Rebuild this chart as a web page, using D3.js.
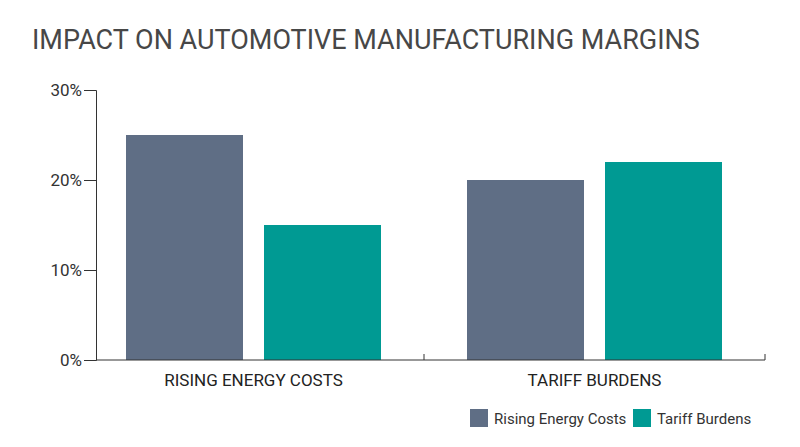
<!DOCTYPE html><html><head><script src="https://cdn.jsdelivr.net/npm/d3@7"></script>
<style>body{margin:0;background:#fff}text{font-family:Roboto,"Liberation Sans",sans-serif}</style></head><body>
<svg id="c" width="800" height="447"></svg>
<script>
const categories=["RISING ENERGY COSTS","TARIFF BURDENS"];
const seriesNames=["Rising Energy Costs","Tariff Burdens"];
const risingEnergy=[25,20];
const tariffBurdens=[15,22];
const yTicks=[0,10,20,30];
const colors=["#5f6e85","#009a93"];
const svg=d3.select("#c");
svg.append("text").attr("x",32).attr("y",49).attr("font-size",27).attr("fill","#474747").text("IMPACT ON AUTOMOTIVE MANUFACTURING MARGINS");
const x=d3.scaleBand().domain(categories).range([83,765]).paddingInner(0).paddingOuter(0);
const y=d3.scaleLinear().domain([0,30]).range([360,90]);
const sub=d3.scaleBand().domain(seriesNames).range([0,x.bandwidth()]).paddingInner(0.153).paddingOuter(0.5);
const data=categories.map((c,i)=>({c,v:[risingEnergy[i],tariffBurdens[i]]}));
const g=svg.append("g");
data.forEach(d=>d.v.forEach((v,j)=>g.append("rect").attr("x",x(d.c)+43+j*138).attr("width",117).attr("y",y(v)).attr("height",y(0)-y(v)).attr("fill",colors[j])));
const ya=svg.append("g").attr("transform","translate(96,0)").call(d3.axisLeft(y).tickValues(yTicks).tickFormat(d=>d+"%").tickSize(12).tickPadding(6));
ya.select(".domain").attr("stroke","#333");ya.selectAll("line").attr("stroke","#333");
ya.selectAll("text").attr("font-size",17).attr("fill","#333").attr("x",-14).attr("dy","0.35em");
const xa=svg.append("g").attr("transform","translate(0,360)").call(d3.axisBottom(x).tickSize(0).tickPadding(14));
xa.select(".domain").attr("d","M96,0H765").attr("stroke","#333");
xa.selectAll("text").attr("font-size",17).attr("fill","#222");
[424,765].forEach(px=>svg.append("line").attr("x1",px).attr("x2",px).attr("y1",360).attr("y2",354).attr("stroke","#333"));
const lg=svg.append("g");
[[470,seriesNames[0]],[633,seriesNames[1]]].forEach(([lx,n],j)=>{lg.append("rect").attr("x",lx).attr("y",409).attr("width",18).attr("height",18).attr("fill",colors[j]);
lg.append("text").attr("x",lx+24).attr("y",424).attr("font-size",15).attr("fill","#333").text(n);});
</script></body></html>
